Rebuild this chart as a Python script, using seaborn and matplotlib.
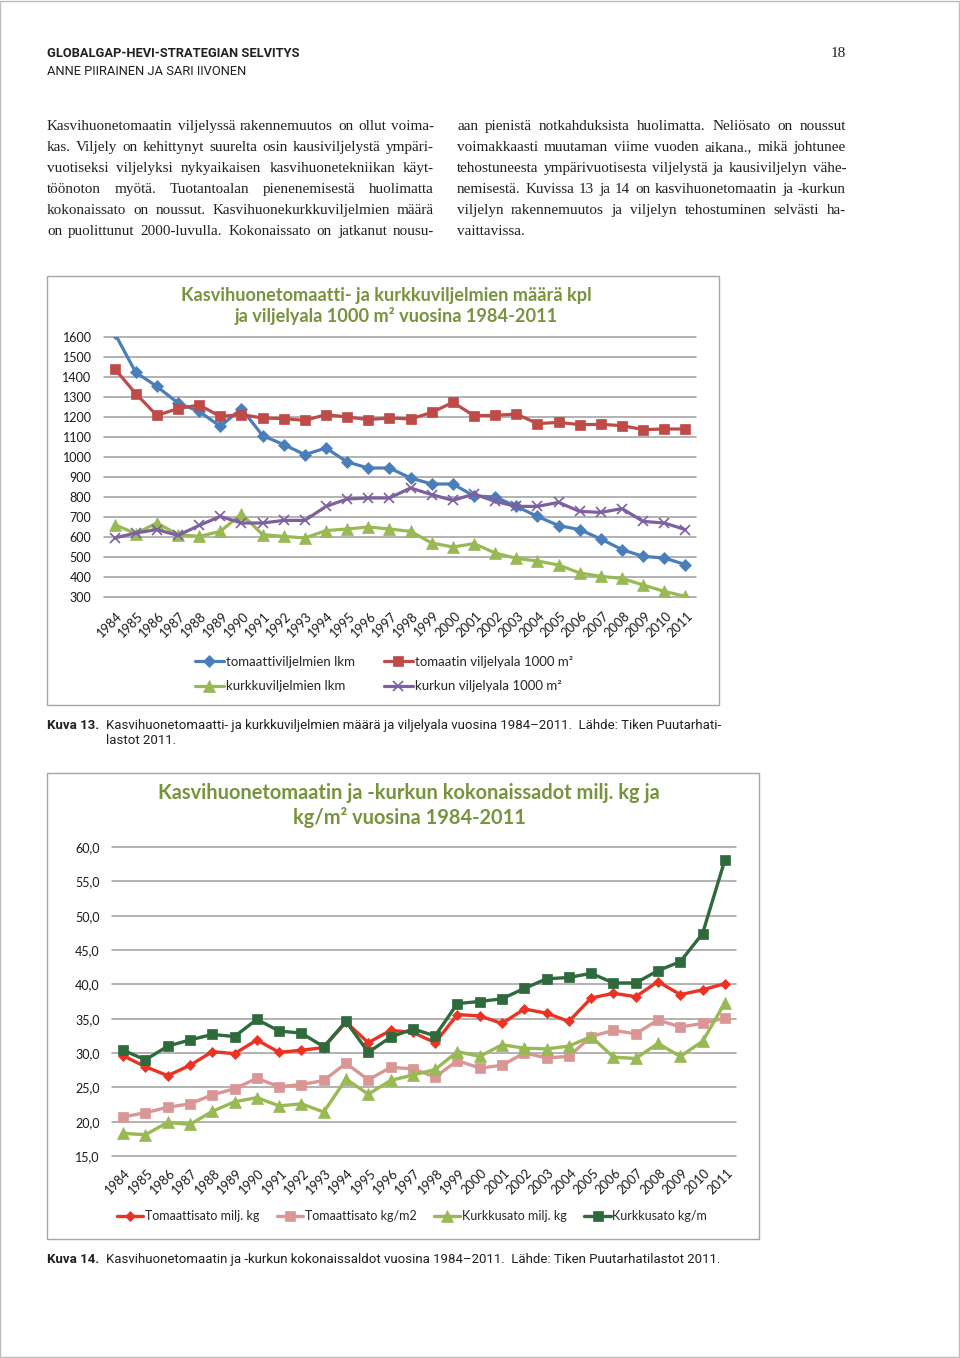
import matplotlib
matplotlib.use('Agg')
import matplotlib.pyplot as plt
import matplotlib.transforms as mtransforms
from matplotlib.font_manager import FontProperties
from matplotlib.lines import Line2D
from matplotlib.patches import Rectangle
import numpy as np
import pandas as pd
import seaborn as sns

# vuodet
years = [1984, 1985, 1986, 1987, 1988, 1989, 1990, 1991, 1992, 1993, 1994, 1995, 1996, 1997,
         1998, 1999, 2000, 2001, 2002, 2003, 2004, 2005, 2006, 2007, 2008, 2009, 2010, 2011]

# kuva 13
tomaatti_lkm = [1620, 1423, 1353, 1270, 1228, 1153, 1242, 1107, 1062, 1012, 1045, 975, 945, 945,
                895, 865, 865, 805, 800, 753, 703, 657, 637, 590, 537, 503, 495, 462]
tomaatti_ala = [1442, 1317, 1208, 1242, 1260, 1203, 1212, 1195, 1192, 1183, 1212, 1200, 1187, 1195,
                1190, 1223, 1273, 1207, 1208, 1215, 1167, 1173, 1162, 1163, 1157, 1137, 1140, 1140]
kurkku_lkm = [662, 617, 670, 612, 603, 628, 715, 612, 603, 595, 632, 640, 650, 640,
              628, 570, 550, 567, 520, 493, 480, 460, 420, 403, 393, 360, 328, 303]
kurkku_ala = [595, 620, 637, 608, 658, 703, 670, 670, 683, 683, 753, 790, 795, 795,
              845, 812, 783, 815, 778, 753, 753, 773, 728, 723, 742, 678, 670, 637]

# kuva 14
tomaatti_milj = [29.6, 28.0, 26.7, 28.2, 30.2, 29.9, 31.9, 30.1, 30.4, 30.8, 34.5, 31.5, 33.3, 33.0,
                 31.5, 35.6, 35.4, 34.3, 36.4, 35.8, 34.6, 38.0, 38.7, 38.2, 40.4, 38.5, 39.2, 40.1]
tomaatti_kgm2 = [20.7, 21.3, 22.1, 22.6, 23.9, 24.8, 26.3, 25.1, 25.4, 26.0, 28.5, 26.1, 27.9, 27.7,
                 26.5, 28.9, 27.8, 28.2, 30.0, 29.3, 29.5, 32.4, 33.3, 32.8, 34.8, 33.8, 34.3, 35.1]
kurkku_milj = [18.3, 18.1, 19.9, 19.6, 21.5, 22.9, 23.5, 22.3, 22.6, 21.4, 26.2, 24.0, 26.0, 26.8,
               27.6, 30.2, 29.5, 31.2, 30.7, 30.6, 31.0, 32.4, 29.4, 29.2, 31.4, 29.5, 31.7, 37.3]
kurkku_kgm = [30.4, 29.0, 31.0, 31.9, 32.7, 32.4, 34.9, 33.2, 32.9, 30.9, 34.6, 30.1, 32.3, 33.5,
              32.5, 37.2, 37.5, 37.9, 39.4, 40.8, 41.0, 41.6, 40.2, 40.2, 42.0, 43.3, 47.4, 58.1]

sns.set_theme(style='white')
plt.rcParams['font.family'] = ['Lato', 'DejaVu Sans']

W, H = 960, 1358
fig = plt.figure(figsize=(W / 100, H / 100), dpi=100)
renderer = fig.canvas.get_renderer()


def fx(x):
    return x / W


def fy(y):
    return 1 - y / H


def rect(x0, y0, x1, y1):
    return [fx(x0), fy(y1), (x1 - x0) / W, (y1 - y0) / H]


# sivun reunus
fig.patches.append(Rectangle((0.0005, 0.0004), 0.998, 0.9992, transform=fig.transFigure,
                             fill=False, edgecolor='#BDBDBD', lw=1))

# otsikko
fig.text(fx(47), fy(57), 'GLOBALGAP-HEVI-STRATEGIAN SELVITYS', family=['Roboto', 'DejaVu Sans'],
         weight='bold', size=9.3, color='#231F20', va='baseline')
fig.text(fx(47), fy(75), 'ANNE PIIRAINEN JA SARI IIVONEN', family=['Roboto', 'DejaVu Sans'],
         size=9.3, color='#231F20', va='baseline')
fig.text(fx(846), fy(57), '18', family=['Liberation Serif'], size=11, color='#231F20',
         va='baseline', ha='right')

# leipateksti, tasattu
body_fp = FontProperties(family=['Liberation Serif'], size=10.9)


def tw(s):
    return renderer.get_text_width_height_descent(s, body_fp, ismath=False)[0]


space_w = tw('a a') - tw('aa')


def justify(line, x0, x1, y, last=False):
    words = line.split()
    widths = [tw(w) for w in words]
    if last or len(words) == 1:
        gap = space_w
    else:
        gap = (x1 - x0 - sum(widths)) / (len(words) - 1)
    x = x0
    for w, wd in zip(words, widths):
        fig.text(fx(x), fy(y), w, fontproperties=body_fp, color='#231F20', va='baseline')
        x += wd + gap


left_lines = [
    'Kasvihuonetomaatin viljelyssä rakennemuutos on ollut voima-',
    'kas. Viljely on kehittynyt suurelta osin kausiviljelystä ympäri-',
    'vuotiseksi viljelyksi nykyaikaisen kasvihuonetekniikan käyt-',
    'töönoton myötä.  Tuotantoalan pienenemisestä huolimatta',
    'kokonaissato on noussut.  Kasvihuonekurkkuviljelmien määrä',
    'on puolittunut 2000-luvulla. Kokonaissato on jatkanut nousu-',
]
right_lines = [
    'aan pienistä notkahduksista huolimatta. Neliösato on noussut',
    'voimakkaasti muutaman viime vuoden aikana., mikä johtunee',
    'tehostuneesta ympärivuotisesta viljelystä ja kausiviljelyn vähe-',
    'nemisestä. Kuvissa 13 ja 14 on kasvihuonetomaatin ja -kurkun',
    'viljelyn rakennemuutos ja viljelyn tehostuminen selvästi ha-',
    'vaittavissa.',
]
for i, line in enumerate(left_lines):
    justify(line, 47, 434, 130 + 21 * i)
for i, line in enumerate(right_lines):
    justify(line, 457, 846, 130 + 21 * i, last=(i == len(right_lines) - 1))


def style_axes(ax, ticks, fmt, pad, xpad):
    ax.set_yticks(ticks)
    ax.set_yticklabels([fmt(t) for t in ticks])
    ax.set_xticks(years)
    ax.set_xticklabels([str(y) for y in years])
    ax.set_xlim(years[0] - 0.5, years[-1] + 0.5)
    ax.set_ylim(ticks[0], ticks[-1])
    for s in ax.spines.values():
        s.set_visible(False)
    ax.yaxis.grid(True, color='#9E9E9E', lw=1.1)
    ax.xaxis.grid(False)
    ax.set_axisbelow(True)
    for t in ax.yaxis.get_major_ticks():
        t.gridline.set_clip_on(False)
    ax.tick_params(axis='y', length=0, pad=pad, labelsize=9, labelcolor='#1A1A1A')
    ax.tick_params(axis='x', length=0, pad=xpad, labelsize=9.3, labelcolor='#1A1A1A')
    off = mtransforms.ScaledTranslation(4 / 72, 0, fig.dpi_scale_trans)
    for lab in ax.get_xticklabels():
        lab.set_rotation(45)
        lab.set_ha('right')
        lab.set_va('center')
        lab.set_rotation_mode('anchor')
        lab.set_transform(lab.get_transform() + off)
    ax.set_xlabel('')
    ax.set_ylabel('')


title_green = '#77933C'

# ---------------- Kuva 13 ----------------
fig.patches.append(Rectangle((fx(47), fy(705)), (719 - 47) / W, (705 - 276) / H,
                             transform=fig.transFigure, fill=False, edgecolor='#A6A6A6', lw=1))
fig.text(fx(386), fy(296), 'Kasvihuonetomaatti- ja kurkkuviljelmien määrä kpl', ha='center',
         va='center', weight='bold', size=13.1, color=title_green)
fig.text(fx(396), fy(316), 'ja viljelyala 1000 m² vuosina 1984-2011', ha='center',
         va='center', weight='bold', size=13.1, color=title_green)

ax1 = fig.add_axes(rect(104, 337, 696, 597))
series1 = [
    ('tomaattiviljelmien lkm', tomaatti_lkm, '#4A7EBB', 'D', 6),
    ('tomaatin viljelyala 1000 m²', tomaatti_ala, '#BE4B48', 's', 7),
    ('kurkkuviljelmien lkm', kurkku_lkm, '#98B954', '^', 8),
    ('kurkun viljelyala 1000 m²', kurkku_ala, '#7D60A0', 'x', 7),
]
handles1 = {}
for name, vals, col, mk, ms in series1:
    sns.lineplot(x=years, y=vals, ax=ax1, color=col, lw=2.3, marker=mk, markersize=ms,
                 markeredgecolor=col, markeredgewidth=1.2 if mk == 'x' else 0.5)
    handles1[name] = Line2D([], [], color=col, lw=2.3, marker=mk, markersize=ms,
                            markeredgecolor=col, markeredgewidth=1.2 if mk == 'x' else 0.5)
style_axes(ax1, list(range(300, 1700, 100)), lambda v: str(v), 9, 12)

order1 = ['tomaattiviljelmien lkm', 'kurkkuviljelmien lkm',
          'tomaatin viljelyala 1000 m²', 'kurkun viljelyala 1000 m²']
fig.legend([handles1[n] for n in order1], order1, loc='center',
           bbox_to_anchor=(fx(384), fy(674)), ncol=2, frameon=False, fontsize=9.5,
           handlelength=2.2, handletextpad=0.15, columnspacing=2.2, labelspacing=0.95)

fig.text(fx(47), fy(729), 'Kuva 13.', family=['Roboto', 'DejaVu Sans'], weight='bold', size=9.5,
         color='#231F20', va='baseline')
fig.text(fx(106), fy(729), 'Kasvihuonetomaatti- ja kurkkuviljelmien määrä ja viljelyala vuosina '
         '1984–2011.  Lähde: Tiken Puutarhati-', family=['Roboto', 'DejaVu Sans'], size=9.5,
         color='#231F20', va='baseline')
fig.text(fx(106), fy(744), 'lastot 2011.', family=['Roboto', 'DejaVu Sans'], size=9.5,
         color='#231F20', va='baseline')

# ---------------- Kuva 14 ----------------
fig.patches.append(Rectangle((fx(47), fy(1239)), (759 - 47) / W, (1239 - 773) / H,
                             transform=fig.transFigure, fill=False, edgecolor='#A6A6A6', lw=1))
fig.text(fx(409), fy(793), 'Kasvihuonetomaatin ja -kurkun kokonaissadot milj. kg ja', ha='center',
         va='center', weight='bold', size=14.4, color=title_green)
fig.text(fx(409), fy(818), 'kg/m² vuosina 1984-2011', ha='center',
         va='center', weight='bold', size=14.4, color=title_green)

ax2 = fig.add_axes(rect(112, 847, 736, 1156))
series2 = [
    ('Tomaattisato milj. kg', tomaatti_milj, '#EA3323', 'D', 5),
    ('Tomaattisato kg/m2', tomaatti_kgm2, '#D99694', 's', 7.5),
    ('Kurkkusato milj. kg', kurkku_milj, '#98B954', '^', 8.5),
    ('Kurkkusato kg/m', kurkku_kgm, '#2E6A3C', 's', 7.5),
]
handles2 = []
for name, vals, col, mk, ms in series2:
    sns.lineplot(x=years, y=vals, ax=ax2, color=col, lw=2.4, marker=mk, markersize=ms,
                 markeredgecolor=col, markeredgewidth=0.5)
    handles2.append(Line2D([], [], color=col, lw=2.4, marker=mk, markersize=ms,
                           markeredgecolor=col, markeredgewidth=0.5))
style_axes(ax2, [15, 20, 25, 30, 35, 40, 45, 50, 55, 60],
           lambda v: f'{v:.1f}'.replace('.', ','), 9, 11)

fig.legend(handles2, [s[0] for s in series2], loc='center',
           bbox_to_anchor=(fx(412), fy(1216)), ncol=4, frameon=False, fontsize=9,
           handlelength=2.1, handletextpad=0.15, columnspacing=1.4)

fig.text(fx(47), fy(1263), 'Kuva 14.', family=['Roboto', 'DejaVu Sans'], weight='bold', size=9.5,
         color='#231F20', va='baseline')
fig.text(fx(106), fy(1263), 'Kasvihuonetomaatin ja -kurkun kokonaissaldot vuosina 1984–2011.  '
         'Lähde: Tiken Puutarhatilastot 2011.', family=['Roboto', 'DejaVu Sans'], size=9.5,
         color='#231F20', va='baseline')

plt.savefig('out.png', dpi=100, facecolor='white')
